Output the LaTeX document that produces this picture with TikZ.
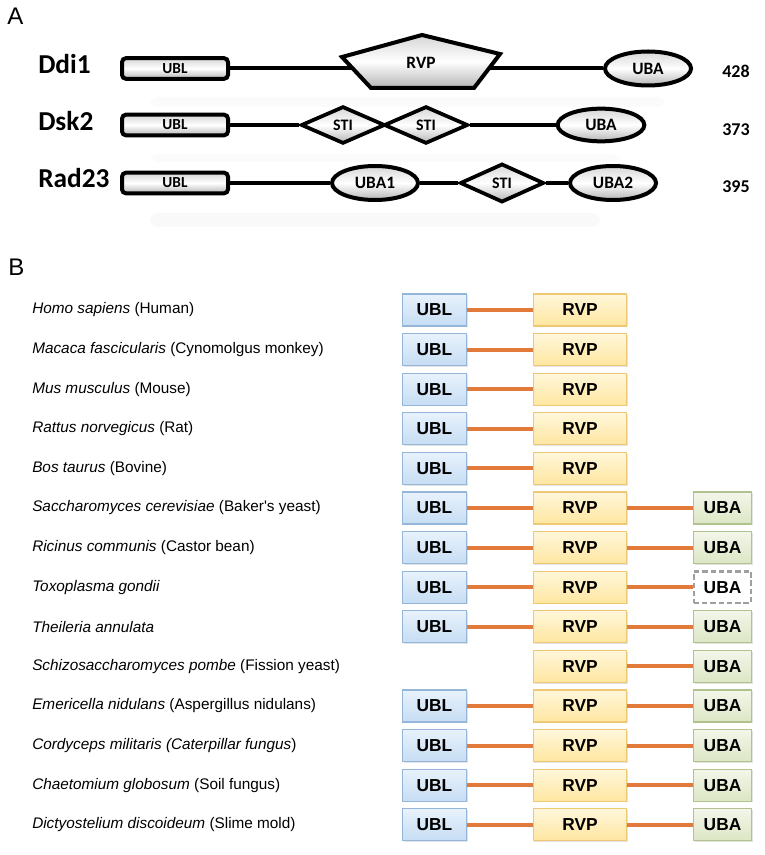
\documentclass[tikz,border=0pt]{standalone}
\usepackage{fontspec}
\setmainfont{Liberation Sans}
\newfontfamily\calib{Carlito}
\usetikzlibrary{shapes.geometric,shadows,backgrounds}
\definecolor{ublT}{HTML}{E8F2FC}
\definecolor{ublB}{HTML}{C6DDF3}
\definecolor{ublD}{HTML}{95B6D8}
\definecolor{rvpT}{HTML}{FFF7DB}
\definecolor{rvpB}{HTML}{FFE6A0}
\definecolor{rvpD}{HTML}{EEC874}
\definecolor{ubaT}{HTML}{F3F6EA}
\definecolor{ubaB}{HTML}{DCE6C4}
\definecolor{ubaD}{HTML}{B2C28E}
\definecolor{linkO}{HTML}{E27A3C}
\begin{document}
\begin{tikzpicture}[x=0.75pt,y=-0.75pt,
  gshade/.style={top color=gray!32, bottom color=gray!58, middle color=white},
  abox/.style={draw=black, line width=3pt, rounded corners=3pt, gshade, minimum width=79.5pt, minimum height=15.5pt, inner sep=0pt, font=\calib\bfseries\fontsize{11.5}{13}\selectfont},
  aell/.style={ellipse, draw=black, line width=3pt, gshade, inner sep=0pt, minimum width=64.5pt, minimum height=25.5pt, font=\calib\bfseries\fontsize{13}{15}\selectfont},
  adia/.style={diamond, draw=black, line width=2.8pt, gshade, inner sep=0pt, minimum width=63pt, minimum height=28pt, font=\calib\bfseries\fontsize{12}{14}\selectfont},
  alink/.style={line width=3pt, draw=black},
  alabel/.style={anchor=base west, inner sep=0pt, font=\calib\bfseries\fontsize{20.5}{24}\selectfont},
  anum/.style={anchor=base, inner sep=0pt, font=\calib\bfseries\fontsize{13.5}{15}\selectfont},
  panel/.style={anchor=base west, inner sep=0pt, font=\fontsize{18}{20}\selectfont},
  bbox/.style={line width=0.8pt, minimum height=24pt, inner sep=0pt, font=\bfseries\fontsize{13}{15}\selectfont, drop shadow={opacity=0.22, shadow xshift=0.8pt, shadow yshift=-0.9pt}},
  ublbox/.style={bbox, draw=ublD, top color=ublT, bottom color=ublB, minimum width=48pt},
  rvpbox/.style={bbox, draw=rvpD, top color=rvpT, bottom color=rvpB, minimum width=70pt},
  ubabox/.style={bbox, draw=ubaD, top color=ubaT, bottom color=ubaB, minimum width=43.5pt},
  ubadash/.style={line width=1.8pt, dash pattern=on 4pt off 2.2pt, draw=gray!75, fill=white, minimum height=23.5pt, minimum width=43pt, inner sep=0pt, font=\bfseries\fontsize{13}{15}\selectfont},
  blink/.style={line width=3pt, draw=linkO},
  spec/.style={anchor=west, inner sep=0pt, font=\fontsize{11.5}{14}\selectfont}
]
\useasboundingbox (0,0) rectangle (764,855);

% faint reflections
\fill[black!2.5, rounded corners=6pt] (150,213) rectangle (600,227);
\fill[black!1.5, rounded corners=6pt] (150,97) rectangle (665,107);
\fill[black!1.5, rounded corners=6pt] (150,154) rectangle (620,162);

% ---------- Panel A ----------
\node[panel] (labA) at (7,25) {A};

\node[alabel] (ddi) at (38,74) {Ddi1};
\node[alabel] (dsk) at (38,131) {Dsk2};
\node[alabel] (rad) at (38,188) {Rad23};

\node[abox] (ubl1) at (175,68.5) {UBL};
\node[abox] (ubl2) at (175,125) {UBL};
\node[abox] (ubl3) at (175,183) {UBL};

\filldraw[line width=3pt, gshade, line join=miter] (342,57) -- (422,35) -- (500,54) -- (474,88) -- (371,88) -- cycle;
\node[inner sep=0pt, font=\calib\bfseries\fontsize{13}{15}\selectfont] (rvpA) at (421,63) {RVP};
\coordinate (rvpIn) at (421,68.5);
\node[aell] (uba1) at (648,68.5) {UBA};

\node[adia] (sti1) at (343,125) {STI};
\node[adia] (sti2) at (426,125) {STI};
\node[aell, minimum width=65pt, minimum height=24.5pt] (uba2) at (601,125) {UBA};

\node[aell] (uba31) at (375,183) {UBA1};
\node[adia, minimum height=29pt] (sti3) at (502,183) {STI};
\node[aell] (uba32) at (613,183) {UBA2};

\node[anum] (n1) at (736,78) {428};
\node[anum] (n2) at (736,136) {373};
\node[anum] (n3) at (736,193) {395};

\begin{scope}[on background layer]
\draw[alink] (ubl1.east) -- (rvpIn);
\draw[alink] (rvpIn) -- (uba1.west);
\draw[alink] (ubl2.east) -- (sti1.west);
\draw[alink] (sti1.east) -- (sti2.west);
\draw[alink] (sti2.east) -- (uba2.west);
\draw[alink] (ubl3.east) -- (uba31.west);
\draw[alink] (uba31.east) -- (sti3.west);
\draw[alink] (sti3.east) -- (uba32.west);
\end{scope}

% ---------- Panel B ----------
\node[panel] (labB) at (8,276) {B};

\node[spec] (s1) at (32,310.0) {\textit{Homo sapiens} (Human)};
\node[spec] (s2) at (32,349.6) {\textit{Macaca fascicularis} (Cynomolgus monkey)};
\node[spec] (s3) at (32,389.2) {\textit{Mus musculus} (Mouse)};
\node[spec] (s4) at (32,428.8) {\textit{Rattus norvegicus} (Rat)};
\node[spec] (s5) at (32,468.4) {\textit{Bos taurus} (Bovine)};
\node[spec] (s6) at (32,508.0) {\textit{Saccharomyces cerevisiae} (Baker\textquotesingle s yeast)};
\node[spec] (s7) at (32,547.6) {\textit{Ricinus communis} (Castor bean)};
\node[spec] (s8) at (32,587.2) {\textit{Toxoplasma gondii}};
\node[spec] (s9) at (32,626.8) {\textit{Theileria annulata}};
\node[spec] (s10) at (32,666.4) {\textit{Schizosaccharomyces pombe} (Fission yeast)};
\node[spec] (s11) at (32,706.0) {\textit{Emericella nidulans} (Aspergillus nidulans)};
\node[spec] (s12) at (32,745.6) {\textit{Cordyceps militaris (Caterpillar fungus})};
\node[spec] (s13) at (32,785.2) {\textit{Chaetomium globosum} (Soil fungus)};
\node[spec] (s14) at (32,824.8) {\textit{Dictyostelium discoideum} (Slime mold)};

\foreach \i/\y in {1/310.0,2/349.6,3/389.2,4/428.8,5/468.4,6/508.0,7/547.6,8/587.2,9/626.8,11/706.0,12/745.6,13/785.2,14/824.8}{
  \node[ublbox] (l\i) at (434.5,\y) {UBL};
}
\foreach \i/\y in {1/310.0,2/349.6,3/389.2,4/428.8,5/468.4,6/508.0,7/547.6,8/587.2,9/626.8,10/666.4,11/706.0,12/745.6,13/785.2,14/824.8}{
  \node[rvpbox] (r\i) at (580,\y) {RVP};
}
\foreach \i/\y in {6/508.0,7/547.6,9/626.8,10/666.4,11/706.0,12/745.6,13/785.2,14/824.8}{
  \node[ubabox] (a\i) at (722.5,\y) {UBA};
}
\node[ubadash] (a8) at (722.5,587.2) {UBA};

\foreach \i in {1,...,9,11,12,13,14}{
  \draw[blink] (l\i.east) -- (r\i.west);
}
\foreach \i in {6,...,14}{
  \draw[blink] (r\i.east) -- (a\i.west);
}
\end{tikzpicture}
\end{document}
